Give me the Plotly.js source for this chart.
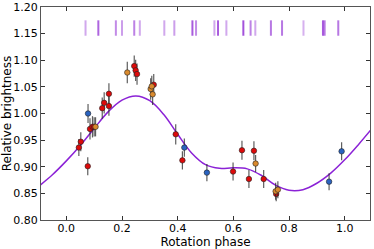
<!DOCTYPE html>
<html><head><meta charset="utf-8">
<script src="https://cdn.plot.ly/plotly-3.0.1.min.js"></script>
<style>html,body{margin:0;padding:0;background:#fff}#c{width:374px;height:249px}</style>
</head><body><div id="c"></div>
<script>
// Observation epochs (phases) shown as tick marks
const epochPhase = [0.069,0.115,0.178,0.200,0.244,0.264,0.352,0.388,0.453,0.466,0.532,0.545,0.575,0.636,0.662,0.679,0.735,0.775,0.852,0.922,0.928,0.977];
const epochAlpha = [0.45,0.8,0.6,0.5,0.65,0.45,0.45,0.5,0.85,0.6,0.45,0.85,0.45,0.9,0.65,0.45,0.7,0.7,0.4,0.85,0.7,0.7];
const epochLevel = 1.1605;

// Red measurements
const redPhase = [0.045,0.052,0.077,0.085,0.094,0.100,0.129,0.136,0.153,0.153,0.244,0.249,0.254,0.314,0.393,0.417,0.599,0.631,0.656,0.674,0.709,0.754];
const redVal   = [0.936,0.947,0.901,0.971,0.975,0.975,1.010,1.020,1.037,1.014,1.089,1.081,1.074,1.054,0.961,0.912,0.891,0.931,0.877,0.930,0.877,0.849];
const redErr   = [0.016,0.018,0.017,0.020,0.020,0.018,0.020,0.020,0.020,0.018,0.020,0.020,0.020,0.020,0.019,0.017,0.017,0.018,0.017,0.018,0.017,0.014];

// Orange measurements
const orPhase = [0.105,0.219,0.303,0.307,0.310,0.680,0.752,0.760];
const orVal   = [0.975,1.077,1.046,1.051,1.036,0.906,0.854,0.857];
const orErr   = [0.018,0.020,0.020,0.020,0.020,0.016,0.016,0.016];

// Blue measurements
const bluePhase = [0.078,0.424,0.505,0.944,0.989];
const blueVal   = [1.000,0.936,0.889,0.872,0.929];
const blueErr   = [0.018,0.017,0.016,0.016,0.017];

// Fitted light curve
const fitPhase = [-0.10,-0.05,0.00,0.05,0.10,0.15,0.20,0.25,0.30,0.35,0.40,0.45,0.50,0.55,0.60,0.65,0.70,0.75,0.80,0.85,0.90,0.95,1.00,1.05,1.10];
const fitVal   = [0.863,0.885,0.911,0.940,0.972,1.003,1.025,1.033,1.024,0.998,0.961,0.926,0.904,0.897,0.898,0.896,0.884,0.866,0.856,0.857,0.869,0.888,0.913,0.942,0.973];

const xTicks = [0.0,0.2,0.4,0.6,0.8,1.0];
const yTicks = [0.80,0.85,0.90,0.95,1.00,1.05,1.10,1.15,1.20];

function pts(x,y,e,color){
  return {type:'scatter',mode:'markers',x:x,y:y,
    error_y:{type:'data',array:e,visible:true,color:'rgba(40,40,40,0.75)',thickness:1.2,width:0},
    marker:{color:color,size:5.5,line:{color:'#222',width:0.6}},hoverinfo:'skip',showlegend:false};
}
const traces = [
  {type:'scatter',mode:'lines',x:fitPhase,y:fitVal,line:{color:'#8b22d6',width:1.5,shape:'spline',smoothing:1},hoverinfo:'skip',showlegend:false},
  {type:'scatter',mode:'markers',x:epochPhase,y:epochPhase.map(()=>epochLevel),
    marker:{symbol:'line-ns',size:11,opacity:epochAlpha,color:'#9a3fd8',line:{color:'#9a3fd8',width:2}},hoverinfo:'skip',showlegend:false},
  pts(redPhase,redVal,redErr,'#dd0a0a'),
  pts(orPhase,orVal,orErr,'#d98a2e'),
  pts(bluePhase,blueVal,blueErr,'#2a63c0')
];
const axisCommon = {showgrid:false,zeroline:false,showline:true,linecolor:'#555',linewidth:1,mirror:'ticks',
  ticks:'inside',ticklen:4,tickcolor:'#333',tickfont:{family:'DejaVu Sans',size:11,color:'#000'}};
const layout = {
  width:374,height:249,margin:{l:41,r:4,t:7,b:29},
  paper_bgcolor:'#fff',plot_bgcolor:'#fff',
  xaxis:Object.assign({},axisCommon,{range:[-0.091,1.091],tickvals:xTicks,ticktext:xTicks.map(v=>v.toFixed(1)),
    ticklabelstandoff:-2,
    title:{text:'Rotation phase',font:{family:'DejaVu Sans',size:12,color:'#000'},standoff:2}}),
  yaxis:Object.assign({},axisCommon,{range:[0.80,1.20],tickvals:yTicks,ticktext:yTicks.map(v=>v.toFixed(2)),
    title:{text:'Relative brightness',font:{family:'DejaVu Sans',size:12,color:'#000'},standoff:3}}),
  showlegend:false
};
Plotly.newPlot('c',traces,layout,{staticPlot:true,displayModeBar:false});
</script></body></html>
